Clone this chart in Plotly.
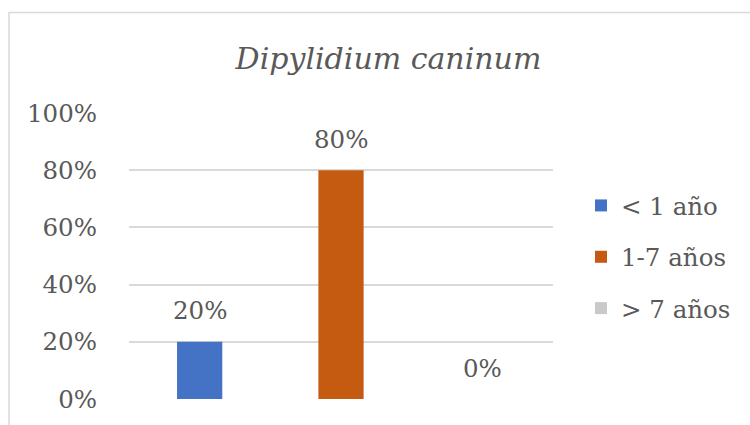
import plotly.graph_objects as go

# Age groups and share of positive cases
groups = ["< 1 año", "1-7 años", "> 7 años"]
shares = [0.20, 0.80, 0.00]
colors = ["#4472C4", "#C55A11", "#C9C9C9"]
y_ticks = [0, 0.2, 0.4, 0.6, 0.8, 1.0]
y_tick_labels = ["0%", "20%", "40%", "60%", "80%", "100%"]
title_text = "<i>Dipylidium caninum</i>"

FONT = "DejaVu Serif"
TEXT_COLOR = "#595959"
GRID_COLOR = "#D9D9D9"
SIZE = 24.5

fig = go.Figure()
for i, (name, val, col) in enumerate(zip(groups, shares, colors)):
    fig.add_trace(go.Bar(
        x=[i], y=[val], name=name, width=0.32,
        marker=dict(color=col, line=dict(width=0)),
        legendgroup=name, hoverinfo="skip",
    ))
    fig.add_annotation(
        x=i, y=val, xref="x", yref="y",
        text=f"{round(val * 100)}%", showarrow=False,
        yanchor="middle", yshift=31,
        font=dict(family=FONT, size=SIZE, color=TEXT_COLOR),
    )

# light chart border running off the right and bottom edges
fig.add_shape(
    type="rect", xref="paper", yref="paper",
    x0=(9 - 129) / 424, x1=(770 - 129) / 424,
    y0=(399 - 450) / 286, y1=(399 - 12.5) / 286,
    line=dict(color=GRID_COLOR, width=1.5), fillcolor="rgba(0,0,0,0)",
    layer="below",
)

fig.update_layout(
    width=750, height=425,
    margin=dict(l=129, r=197, t=113, b=26, pad=0),
    paper_bgcolor="white", plot_bgcolor="white",
    barmode="overlay",
    showlegend=True,
    font=dict(family=FONT, color=TEXT_COLOR),
    title=dict(
        text=title_text, x=(388.5 - 129) / 424, xref="paper", xanchor="center",
        y=1 - 58 / 425, yref="container", yanchor="middle",
        font=dict(family=FONT, size=30, color=TEXT_COLOR),
    ),
    legend=dict(
        x=(581 - 129) / 424, xanchor="left",
        y=(399 - 183) / 286, yanchor="top",
        font=dict(family=FONT, size=SIZE, color=TEXT_COLOR),
        traceorder="grouped", tracegroupgap=16.5,
        bgcolor="rgba(0,0,0,0)", itemclick=False, itemdoubleclick=False,
    ),
    xaxis=dict(range=[-0.5, 2.5], showticklabels=False, showgrid=False,
               zeroline=False, showline=False, ticks="", fixedrange=True),
    yaxis=dict(range=[0, 1], tickvals=y_ticks, ticktext=y_tick_labels,
               showgrid=True, gridcolor=GRID_COLOR, gridwidth=1.5,
               zeroline=False, showline=False, ticks="",
               ticklabelstandoff=31,
               tickfont=dict(family=FONT, size=SIZE, color=TEXT_COLOR),
               fixedrange=True),
)

fig.write_html("out.html")
